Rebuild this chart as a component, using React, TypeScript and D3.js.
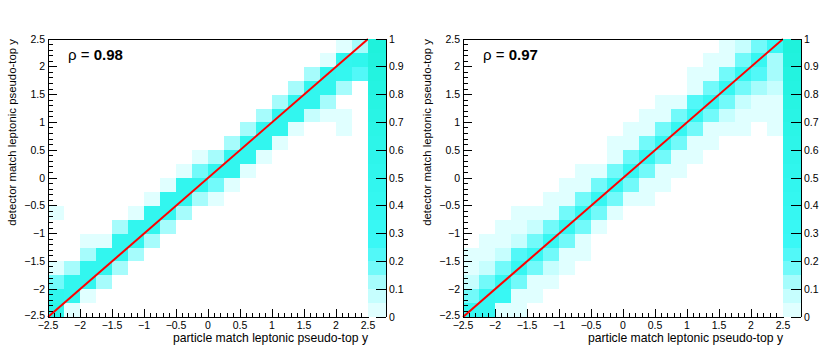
import React from "react";
import * as d3 from "d3";

// Migration matrices, normalised per row. Each row is read top -> bottom
// (detector bin 19 down to 0) as [first particle bin, values...].
const leftRows: [number, number[]][] = [
  [18, [0.03, 0.1]],
  [17, [0.03, 0.45, 0.5]],
  [16, [0.1, 0.45, 0.4, 0.22]],
  [15, [0.1, 0.45, 0.45, 0.1]],
  [14, [0.1, 0.45, 0.45, 0.1]],
  [13, [0.1, 0.45, 0.45, 0.08, 0.03, 0.03]],
  [12, [0.1, 0.45, 0.45, 0.03, 0, 0, 0.03]],
  [11, [0.1, 0.45, 0.45, 0.03]],
  [9, [0.03, 0.13, 0.45, 0.45, 0.03]],
  [8, [0.03, 0.16, 0.45, 0.45, 0.03]],
  [7, [0.03, 0.45, 0.45, 0.17, 0.03]],
  [6, [0.03, 0.45, 0.45, 0.13, 0.03]],
  [0, [0.03, 0, 0, 0, 0, 0.03, 0.45, 0.45, 0.13]],
  [4, [0.1, 0.45, 0.45, 0.1]],
  [2, [0.03, 0.03, 0.45, 0.45, 0.1]],
  [2, [0.1, 0.45, 0.45, 0.1]],
  [0, [0.03, 0.1, 0.45, 0.45, 0.1]],
  [0, [0.15, 0.45, 0.45, 0.1]],
  [0, [0.5, 0.45, 0.03]],
  [0, [0.6, 0.04]],
];

const rightRows: [number, number[]][] = [
  [16, [0.03, 0.09, 0.18, 0.3]],
  [15, [0.03, 0.03, 0.18, 0.35, 0.13]],
  [14, [0.03, 0.03, 0.18, 0.35, 0.22, 0.12]],
  [14, [0.03, 0.18, 0.35, 0.18, 0.12, 0.07]],
  [12, [0.03, 0.03, 0.2, 0.35, 0.18, 0.08, 0.03, 0.03]],
  [11, [0.03, 0.03, 0.18, 0.35, 0.18, 0.08, 0.03, 0.03, 0.03]],
  [10, [0.03, 0.03, 0.18, 0.35, 0.18, 0.03, 0.03, 0.03, 0, 0.03]],
  [9, [0.03, 0.03, 0.18, 0.35, 0.18, 0.03, 0.03]],
  [9, [0.03, 0.18, 0.35, 0.18, 0.03, 0.03]],
  [7, [0.03, 0.03, 0.18, 0.35, 0.18, 0.03, 0.03]],
  [6, [0.03, 0.03, 0.18, 0.35, 0.18, 0.03, 0.03]],
  [5, [0.03, 0.03, 0.18, 0.35, 0.18, 0.03, 0.03]],
  [3, [0.03, 0.03, 0.03, 0.18, 0.35, 0.17, 0.03]],
  [2, [0.03, 0.03, 0.09, 0.18, 0.35, 0.18, 0.03]],
  [1, [0.03, 0.03, 0.09, 0.18, 0.35, 0.18, 0.03]],
  [0, [0.03, 0.03, 0.09, 0.22, 0.35, 0.18, 0.03, 0.03]],
  [0, [0.03, 0.07, 0.18, 0.35, 0.18, 0.09, 0.03]],
  [0, [0.09, 0.18, 0.35, 0.18, 0.03, 0.03]],
  [0, [0.18, 0.35, 0.3, 0.03, 0.03]],
  [0, [0.35, 0.35, 0.03, 0.03]],
];

const axisTicks = [-2.5, -2, -1.5, -1, -0.5, 0, 0.5, 1, 1.5, 2, 2.5];
const zTicks = [0, 0.1, 0.2, 0.3, 0.4, 0.5, 0.6, 0.7, 0.8, 0.9, 1];
const xTitle = "particle match leptonic pseudo-top y";
const yTitle = "detector match leptonic pseudo-top y";
const rhoValues = ["0.98", "0.97"];

const NBINS = 20;
const BIN = 0.25;
const NLEVELS = 20;

// contour level -> colour
const palette = d3
  .scaleLinear<string>()
  .domain([0, 1, 2, 3, 4, 5, 19])
  .range(["#e0ffff", "#c6fefe", "#a6fcfc", "#72fafa", "#52f8f8", "#3af8f6", "#1ff2dc"])
  .interpolate(d3.interpolateRgb);

const levelOf = (v: number) => Math.min(NLEVELS - 1, Math.floor(v * NLEVELS + 1e-9));
const fmt = d3.format("~g");
const FONT = "'Liberation Sans', Arial, Helvetica, sans-serif";

function Panel({ ox, rows, rho }: { ox: number; rows: [number, number[]][]; rho: string }) {
  const left = ox + 48;
  const right = ox + 368;
  const top = 39;
  const bottom = 317;
  const x = d3.scaleLinear().domain([-2.5, 2.5]).range([left, right]);
  const y = d3.scaleLinear().domain([-2.5, 2.5]).range([bottom, top]);
  const z = d3.scaleLinear().domain([0, 1]).range([bottom, top]);
  const barX0 = right;
  const barX1 = ox + 386;

  const cells: { x0: number; y0: number; v: number }[] = [];
  rows.forEach(([start, vals], r) => {
    const yb = NBINS - 1 - r;
    vals.forEach((v, i) => {
      if (v > 0) cells.push({ x0: -2.5 + BIN * (start + i), y0: -2.5 + BIN * yb, v });
    });
  });

  const minor = d3.range(-25, 26).map(d => d / 10);
  const levels = d3.range(NLEVELS);
  const isMajor = (t: number) => Math.abs(t * 2 - Math.round(t * 2)) < 1e-6;

  return (
    <g fontFamily={FONT}>
      {/* cells */}
      <g shapeRendering="crispEdges">
        {cells.map((c, i) => (
          <rect
            key={i}
            x={x(c.x0)}
            y={y(c.y0 + BIN)}
            width={x(c.x0 + BIN) - x(c.x0)}
            height={y(c.y0) - y(c.y0 + BIN)}
            fill={palette(levelOf(c.v))}
          />
        ))}
      </g>

      {/* diagonal */}
      <line x1={x(-2.5)} y1={y(-2.5)} x2={x(2.5)} y2={y(2.5)} stroke="#ff0000" strokeWidth={2} />

      {/* frame */}
      <rect x={left} y={top} width={right - left} height={bottom - top} fill="none" stroke="#000" strokeWidth={1} shapeRendering="crispEdges" />

      {/* ticks */}
      <g stroke="#000" shapeRendering="crispEdges">
        {minor.map(t => (
          <line key={"x" + t} x1={x(t)} x2={x(t)} y1={bottom} y2={bottom - (isMajor(t) ? 8 : 4)} />
        ))}
        {minor.map(t => (
          <line key={"y" + t} x1={left} x2={left + (isMajor(t) ? 9 : 4.5)} y1={y(t)} y2={y(t)} />
        ))}
      </g>
      <g fontSize={10.5} fill="#000">
        {axisTicks.map(t => (
          <text key={"xl" + t} x={x(t)} y={329} textAnchor="middle">
            {fmt(t)}
          </text>
        ))}
        {axisTicks.map(t => (
          <text key={"yl" + t} x={left - 3} y={y(t)} dy={t === -2.5 ? "0.2em" : "0.35em"} textAnchor="end">
            {fmt(t)}
          </text>
        ))}
      </g>

      {/* titles */}
      <text x={right} y={342} textAnchor="end" fontSize={12.2}>
        {xTitle}
      </text>
      <text transform={`translate(${ox + 16},${top}) rotate(-90)`} textAnchor="end" fontSize={11.4}>
        {yTitle}
      </text>
      <text x={ox + 68} y={60} fontSize={15}>
        ρ = <tspan fontWeight="bold">{rho}</tspan>
      </text>

      {/* colour bar */}
      <g shapeRendering="crispEdges">
        {levels.map(l => (
          <rect
            key={l}
            x={barX0}
            y={z((l + 1) / NLEVELS)}
            width={barX1 - barX0}
            height={z(l / NLEVELS) - z((l + 1) / NLEVELS)}
            fill={palette(l)}
          />
        ))}
        <line x1={barX1} x2={barX1} y1={top} y2={bottom} stroke="#000" />
        {zTicks.map(t => (
          <line key={t} x1={barX1} x2={barX1 - 10} y1={z(t)} y2={z(t)} stroke="#000" />
        ))}
      </g>
      <g fontSize={10.5}>
        {zTicks.map(t => (
          <text key={t} x={barX1 + 3} y={z(t)} dy="0.35em">
            {fmt(t)}
          </text>
        ))}
      </g>
    </g>
  );
}

export default function App() {
  return (
    <svg width={830} height={358} style={{ position: "absolute", left: 0, top: 0, background: "#fff" }}>
      <rect width={830} height={358} fill="#fff" />
      <Panel ox={0} rows={leftRows} rho={rhoValues[0]} />
      <Panel ox={415} rows={rightRows} rho={rhoValues[1]} />
    </svg>
  );
}
